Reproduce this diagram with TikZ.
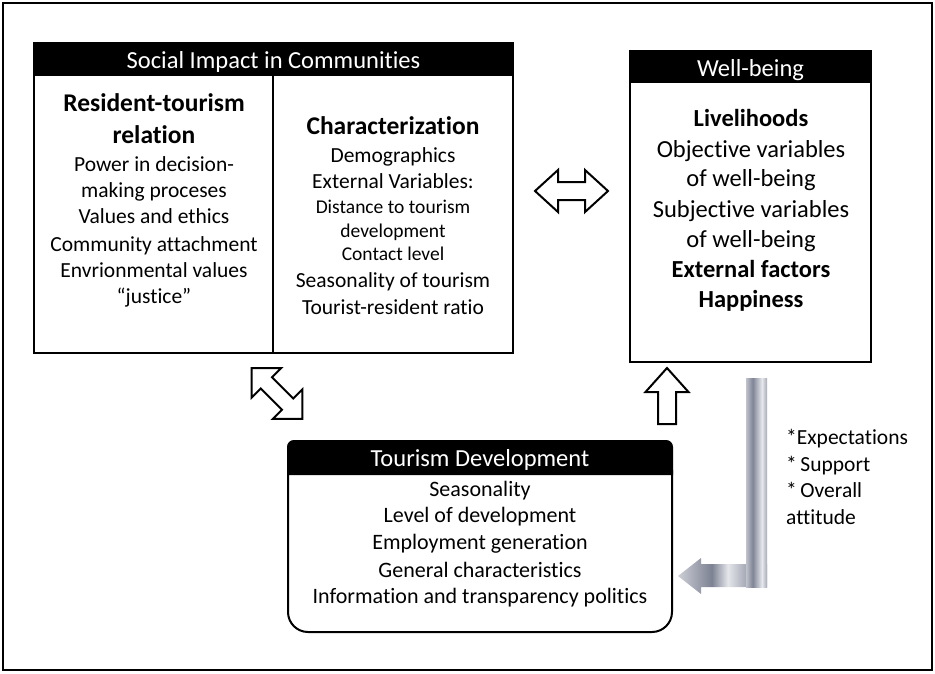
\documentclass[tikz,border=0pt]{standalone}
\usepackage{fontspec}
\setmainfont{Carlito}[Ligatures={NoCommon,NoContextual}, RawFeature={-liga;-clig;-dlig}]
\definecolor{ga1}{RGB}{192,195,204}
\definecolor{ga2}{RGB}{128,133,150}
\definecolor{ga3}{RGB}{230,232,236}
\definecolor{ga4}{RGB}{168,171,183}
\definecolor{gb1}{RGB}{205,207,214}
\definecolor{gb2}{RGB}{150,154,168}
\definecolor{gb3}{RGB}{125,130,147}
\definecolor{gb4}{RGB}{228,230,234}
\definecolor{gb5}{RGB}{160,164,177}
\pgfdeclarehorizontalshading{vbarsh}{100bp}{color(0bp)=(ga1); color(25bp)=(ga1); color(41bp)=(ga2); color(63bp)=(ga3); color(75bp)=(ga4); color(100bp)=(ga4)}
\pgfdeclarehorizontalshading{hbarsh}{100bp}{color(0bp)=(gb1); color(25bp)=(gb1); color(38bp)=(gb2); color(44bp)=(gb3); color(53bp)=(gb4); color(64bp)=(gb5); color(75bp)=(gb5); color(100bp)=(gb5)}
\begin{document}
\begin{tikzpicture}[x=1pt,y=-1pt,
  frame/.style={line width=2pt},
  boxline/.style={line width=2.5pt},
  hdr/.style={anchor=base, inner sep=0pt, text=white, font=\fontsize{24.5}{28}\selectfont},
  txt/.style={anchor=base, inner sep=0pt, font=\fontsize{21.5}{26}\selectfont},
  txtb/.style={anchor=base, inner sep=0pt, font=\fontsize{25.5}{30}\selectfont\bfseries},
  txts/.style={anchor=base, inner sep=0pt, font=\fontsize{19.5}{23}\selectfont},
  wbt/.style={anchor=base, inner sep=0pt, font=\fontsize{24.5}{30}\selectfont},
  wbtb/.style={anchor=base, inner sep=0pt, font=\fontsize{24.5}{30}\selectfont\bfseries},
  tdt/.style={anchor=base, inner sep=0pt, font=\fontsize{22}{27}\selectfont},
  side/.style={anchor=base west, inner sep=0pt, font=\fontsize{21.5}{26}\selectfont},
  blockarr/.style={draw=black, fill=white, line width=2pt, line join=miter}
]
\useasboundingbox (0,0) rectangle (935,673);
\draw[frame] (3,3) rectangle (932,670);

% ---- Social Impact in Communities
\node[draw, boxline, minimum width=479pt, minimum height=310pt, anchor=north west, inner sep=0pt, outer sep=0pt] (sic) at (34,43) {};
\fill (34,43) rectangle (513,76);
\draw[boxline] (273,76) -- (273,353);
\node[hdr] (sich) at (273.5,68) {Social Impact in Communities};
\node[txtb] (l1) at (154,111) {Resident-tourism};
\node[txtb] (l2) at (154,143) {relation};
\node[txt] (l3) at (154,171) {Power in decision-};
\node[txt] (l4) at (154,197) {making proceses};
\node[txt] (l5) at (154,223) {Values and ethics};
\node[txt] (l6) at (154,251) {Community attachment};
\node[txt] (l7) at (154,277) {Envrionmental values};
\node[txt] (l8) at (154,303) {“justice”};
\node[txtb] (r1) at (393,134) {Characterization};
\node[txt] (r2) at (393,162) {Demographics};
\node[txt] (r3) at (393,188) {External Variables:};
\node[txts] (r4) at (393,213) {Distance to tourism};
\node[txts] (r5) at (393,237) {development};
\node[txts] (r6) at (393,260) {Contact level};
\node[txt] (r7) at (393,287) {Seasonality of tourism};
\node[txt] (r8) at (393,314) {Tourist-resident ratio};

% ---- Well-being
\node[draw, boxline, minimum width=241pt, minimum height=311pt, anchor=north west, inner sep=0pt, outer sep=0pt] (wb) at (630,51) {};
\fill (630,51) rectangle (871,83);
\node[hdr] (wbh) at (750.5,76) {Well-being};
\node[wbtb] (w1) at (751,126) {Livelihoods};
\node[wbt] (w2) at (751,157) {Objective variables};
\node[wbt] (w3) at (751,186) {of well-being};
\node[wbt] (w4) at (751,217) {Subjective variables};
\node[wbt] (w5) at (751,247) {of well-being};
\node[wbtb] (w6) at (751,277) {External factors};
\node[wbtb] (w7) at (751,307) {Happiness};

% ---- Tourism Development
\coordinate (td) at (480,441);
\draw[line width=2pt, rounded corners=20] (288,470) -- (288,632) -- (672,632) -- (672,470);
\fill[rounded corners=6] (288,475) -- (288,441) -- (672,441) -- (672,475);
\draw[line width=2pt, rounded corners=6] (288,475) -- (288,441) -- (672,441) -- (672,475);
\node[hdr] (tdh) at (480,466) {Tourism Development};
\node[tdt] (t1) at (480,496) {Seasonality};
\node[tdt] (t2) at (480,522) {Level of development};
\node[tdt] (t3) at (480,549) {Employment generation};
\node[tdt] (t4) at (480,577) {General characteristics};
\node[tdt] (t5) at (480,603) {Information and transparency politics};

% ---- side text
\node[side] (s1) at (786,444) {*Expectations};
\node[side] (s2) at (786,471) {*\,Support};
\node[side] (s3) at (786,497) {*\,Overall};
\node[side] (s4) at (786,524) {attitude};

% ---- block arrows
\coordinate (ha) at (571.5,191);
\draw[blockarr, shift={(ha)}] (-36.5,0) -- (-13.5,-21) -- (-13.5,-9) -- (13.5,-9) -- (13.5,-21) -- (36.5,0) -- (13.5,21) -- (13.5,9) -- (-13.5,9) -- (-13.5,21) -- cycle;
\coordinate (da) at (277,393.5);
\draw[blockarr, shift={(da)}, rotate=-45] (-36,0) -- (-15,-21) -- (-15,-8) -- (15,-8) -- (15,-21) -- (36,0) -- (15,21) -- (15,8) -- (-15,8) -- (-15,21) -- cycle;
\coordinate (ua) at (667,368);
\draw[blockarr, shift={(ua)}] (0,0) -- (21.5,24) -- (9,24) -- (9,56) -- (-9,56) -- (-9,24) -- (-21.5,24) -- cycle;

% ---- gray bent arrow
\coordinate (ga) at (767,587);
\shade[shading=hbarsh] (767,564) -- (701,564) -- (701,558) -- (678,576) -- (701,594) -- (701,587) -- (767,587) -- cycle;
\shade[shading=vbarsh] (746,378) rectangle (767,587);
\end{tikzpicture}
\end{document}
